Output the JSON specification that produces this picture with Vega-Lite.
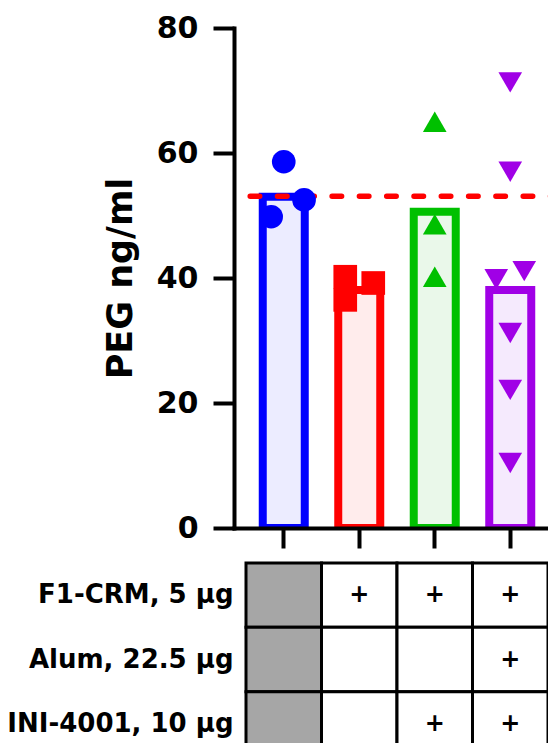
{
  "$schema": "https://vega.github.io/schema/vega-lite/v6.json",
  "padding": {"left": 6, "top": 13, "right": 0, "bottom": 0},
  "background": "white",
  "config": {"view": {"stroke": null}},
  "bounds": "flush",
  "spacing": 35,
  "resolve": {"scale": {"x": "independent", "y": "independent", "fill": "independent", "color": "independent"}},
  "datasets": {
    "bars": [
      {"group": "Control", "mean": 53.0},
      {"group": "F1-CRM", "mean": 38.1},
      {"group": "F1-CRM + INI-4001", "mean": 50.6},
      {"group": "F1-CRM + Alum + INI-4001", "mean": 38.1}
    ],
    "points": [
      {"group": "Control", "value": 58.6, "jit": 0},
      {"group": "Control", "value": 49.8, "jit": -0.9},
      {"group": "Control", "value": 52.5, "jit": 1.45},
      {"group": "F1-CRM", "value": 40.2, "jit": -1},
      {"group": "F1-CRM", "value": 39.2, "jit": 1},
      {"group": "F1-CRM", "value": 36.5, "jit": -1},
      {"group": "F1-CRM + INI-4001", "value": 65.0, "jit": 0},
      {"group": "F1-CRM + INI-4001", "value": 48.6, "jit": 0},
      {"group": "F1-CRM + INI-4001", "value": 40.2, "jit": 0},
      {"group": "F1-CRM + Alum + INI-4001", "value": 71.3, "jit": 0},
      {"group": "F1-CRM + Alum + INI-4001", "value": 57.0, "jit": 0},
      {"group": "F1-CRM + Alum + INI-4001", "value": 39.8, "jit": -1},
      {"group": "F1-CRM + Alum + INI-4001", "value": 41.1, "jit": 1},
      {"group": "F1-CRM + Alum + INI-4001", "value": 31.2, "jit": 0},
      {"group": "F1-CRM + Alum + INI-4001", "value": 22.1, "jit": 0},
      {"group": "F1-CRM + Alum + INI-4001", "value": 10.4, "jit": 0}
    ],
    "threshold": [{"value": 53.1}],
    "table": [
      {"group": "Control", "component": "F1-CRM, 5 µg", "plus": ""},
      {"group": "Control", "component": "Alum, 22.5 µg", "plus": ""},
      {"group": "Control", "component": "INI-4001, 10 µg", "plus": ""},
      {"group": "F1-CRM", "component": "F1-CRM, 5 µg", "plus": "+"},
      {"group": "F1-CRM", "component": "Alum, 22.5 µg", "plus": ""},
      {"group": "F1-CRM", "component": "INI-4001, 10 µg", "plus": ""},
      {"group": "F1-CRM + INI-4001", "component": "F1-CRM, 5 µg", "plus": "+"},
      {"group": "F1-CRM + INI-4001", "component": "Alum, 22.5 µg", "plus": ""},
      {"group": "F1-CRM + INI-4001", "component": "INI-4001, 10 µg", "plus": "+"},
      {"group": "F1-CRM + Alum + INI-4001", "component": "F1-CRM, 5 µg", "plus": "+"},
      {"group": "F1-CRM + Alum + INI-4001", "component": "Alum, 22.5 µg", "plus": "+"},
      {"group": "F1-CRM + Alum + INI-4001", "component": "INI-4001, 10 µg", "plus": "+"}
    ]
  },
  "vconcat": [
    {
      "width": 326,
      "height": 500,
      "layer": [
        {
          "data": {"name": "bars"},
          "mark": {"type": "bar", "width": 42, "strokeWidth": 8, "clip": true},
          "encoding": {
            "x": {
              "field": "group", "type": "nominal",
              "scale": {"domain": ["Control", "F1-CRM", "F1-CRM + INI-4001", "F1-CRM + Alum + INI-4001"], "paddingInner": 0, "paddingOuter": 0.159},
              "axis": {"title": null, "labels": false, "ticks": true, "tickSize": 20, "tickWidth": 4, "tickColor": "black", "domainColor": "black", "domainWidth": 4, "domainCap": "square", "zindex": 1}
            },
            "y": {
              "field": "mean", "type": "quantitative",
              "scale": {"domain": [0, 80], "nice": false},
              "axis": {
                "title": "PEG ng/ml", "titleFont": "DejaVu Sans", "titleFontWeight": "bold", "titleFontSize": 35, "titleColor": "black", "titlePadding": 18,
                "labelFont": "DejaVu Sans", "labelFontWeight": "bold", "labelFontSize": 30, "labelColor": "black", "labelPadding": 15,
                "values": [0, 20, 40, 60, 80], "grid": false,
                "tickSize": 21, "tickWidth": 4, "tickColor": "black", "domainColor": "black", "domainWidth": 4, "domainCap": "square", "zindex": 1
              }
            },
            "stroke": {
              "field": "group", "type": "nominal", "legend": null,
              "scale": {"domain": ["Control", "F1-CRM", "F1-CRM + INI-4001", "F1-CRM + Alum + INI-4001"], "range": ["#0000ff", "#ff0000", "#00c000", "#a000e6"]}
            },
            "fill": {
              "field": "group", "type": "nominal", "legend": null,
              "scale": {"domain": ["Control", "F1-CRM", "F1-CRM + INI-4001", "F1-CRM + Alum + INI-4001"], "range": ["#ececff", "#ffecec", "#eaf8ea", "#f5eafd"]}
            }
          }
        },
        {
          "data": {"name": "threshold"},
          "mark": {"type": "rule", "color": "#ff0000", "strokeWidth": 5.5, "strokeDash": [9.5, 17.8], "strokeCap": "round"},
          "encoding": {"y": {"field": "value", "type": "quantitative"}}
        },
        {
          "data": {"name": "points"},
          "mark": {"type": "point", "filled": true, "size": 560, "opacity": 1, "strokeWidth": 0},
          "encoding": {
            "x": {"field": "group", "type": "nominal"},
            "xOffset": {"field": "jit", "type": "quantitative", "scale": {"domain": [-1, 1], "range": [23.75, 51.75]}},
            "y": {"field": "value", "type": "quantitative"},
            "color": {
              "field": "group", "type": "nominal", "legend": null,
              "scale": {"domain": ["Control", "F1-CRM", "F1-CRM + INI-4001", "F1-CRM + Alum + INI-4001"], "range": ["#0000ff", "#ff0000", "#00c000", "#a000e6"]}
            },
            "shape": {
              "field": "group", "type": "nominal", "legend": null,
              "scale": {"domain": ["Control", "F1-CRM", "F1-CRM + INI-4001", "F1-CRM + Alum + INI-4001"], "range": ["circle", "square", "triangle-up", "triangle-down"]}
            }
          }
        }
      ]
    },
    {
      "width": 326,
      "height": 193,
      "data": {"name": "table"},
      "encoding": {
        "x": {
          "field": "group", "type": "nominal",
          "scale": {"type": "band", "domain": ["Control", "F1-CRM", "F1-CRM + INI-4001", "F1-CRM + Alum + INI-4001"], "paddingInner": 0, "paddingOuter": 0.159},
          "axis": null
        },
        "y": {
          "field": "component", "type": "nominal",
          "scale": {"type": "band", "domain": ["F1-CRM, 5 µg", "Alum, 22.5 µg", "INI-4001, 10 µg"], "paddingInner": 0, "paddingOuter": 0},
          "axis": {"title": null, "domain": false, "ticks": false, "tickSize": 0, "labelFont": "DejaVu Sans", "labelFontWeight": "bold", "labelFontSize": 26, "labelColor": "black", "labelPadding": 1, "labelLimit": 400}
        }
      },
      "layer": [
        {
          "mark": {"type": "rect", "stroke": "black", "strokeWidth": 3, "width": 75.5, "height": 64.33},
          "encoding": {
            "fill": {
              "field": "group", "type": "nominal", "legend": null,
              "scale": {"domain": ["Control", "F1-CRM", "F1-CRM + INI-4001", "F1-CRM + Alum + INI-4001"], "range": ["#a6a6a6", "#ffffff", "#ffffff", "#ffffff"]}
            }
          }
        },
        {
          "mark": {"type": "text", "font": "DejaVu Sans", "fontWeight": "bold", "fontSize": 24, "color": "black"},
          "encoding": {"text": {"field": "plus", "type": "nominal"}}
        }
      ]
    }
  ]
}
